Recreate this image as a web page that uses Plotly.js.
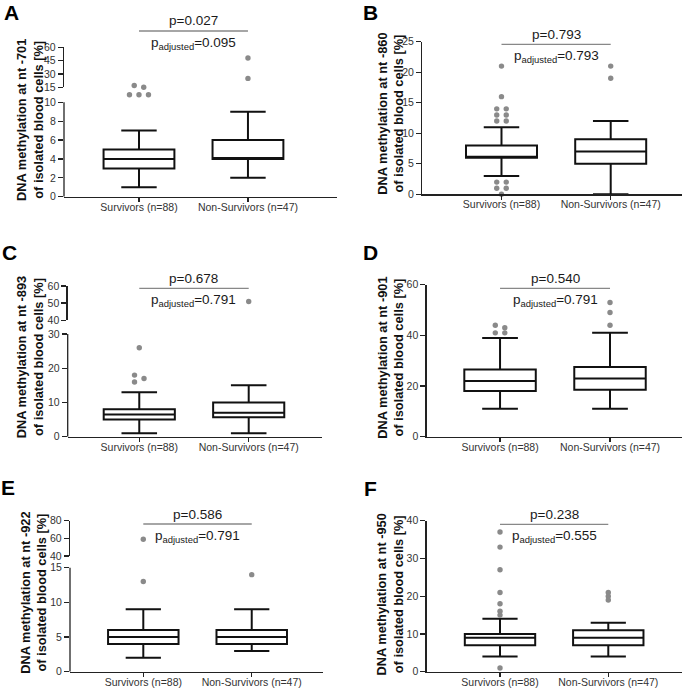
<!DOCTYPE html>
<html><head><meta charset="utf-8">
<script src="https://cdn.plot.ly/plotly-3.0.1.min.js"></script>
<style>html,body{margin:0;padding:0;background:#fff}#chart{width:685px;height:689px}</style>
</head><body><div id="chart"></div>
<script>
// ---------------- data ----------------
const categories = ['Survivors (n=88)', 'Non-Survivors (n=47)'];
const panelLetters = ['A', 'B', 'C', 'D', 'E', 'F'];
const sites = ['-701', '-860', '-893', '-901', '-922', '-950'];
const pValues = ['0.027', '0.793', '0.678', '0.540', '0.586', '0.238'];
const pAdjusted = ['0.095', '0.793', '0.791', '0.791', '0.791', '0.555'];

const survLow  = [1, 3, 1, 11, 2, 4];
const survQ1   = [3, 6, 5, 18, 4, 7];
const survMed  = [4, 6, 6.5, 22, 5, 9];
const survQ3   = [5, 8, 8, 26.5, 6, 10];
const survHigh = [7, 11, 13, 39, 9, 14];

const nonLow  = [2, 0, 1, 11, 3, 4];
const nonQ1   = [4, 5, 5.7, 18.5, 4, 7];
const nonMed  = [4, 7, 7, 23, 5, 9];
const nonQ3   = [6, 9, 10, 27.5, 6, 11];
const nonHigh = [9, 12, 15, 41, 9, 13];

const survOutliers = [
  [10.8, 10.8, 10.8, 15, 17],
  [0, 1, 1, 2, 2, 12, 12, 13, 13, 14, 14, 16, 21],
  [16, 17, 18, 26],
  [41, 41, 43, 44],
  [13, 59],
  [1, 15, 16, 18, 21, 27, 33, 37]
];
const nonOutliers = [
  [25, 48],
  [19, 21],
  [51],
  [44, 49, 53],
  [14],
  [19, 20, 21]
];

// ---------------- geometry (pixels) ----------------
const W = 685, H = 689;
const FONT = "Arial, 'Liberation Sans', sans-serif";
const geo = [
  {x0: 64, x1: 337, xr: [-0.688, 1.817],
   seg: [{top: 102.3, bot: 196.7, range: [0, 10], dtick: 2}, {top: 47.3, bot: 87.3, range: [15, 60], dtick: 15}],
   title: [30, 120], letter: [11, 0, 'top'], sigY: 31},
  {x0: 422.3, x1: 681.7, xr: [-0.725, 1.65],
   seg: [{top: 41.7, bot: 194.3, range: [0, 25], dtick: 5}],
   title: [390.8, 114], letter: [370, 0, 'top'], sigY: 44.3},
  {x0: 67.7, x1: 321.7, xr: [-0.654, 1.667],
   seg: [{top: 334, bot: 436.7, range: [0, 30], dtick: 10}, {top: 286, bot: 320.3, range: [40, 60], dtick: 10}],
   title: [29.7, 357.5], letter: [9, 253, 'middle'], sigY: 288.3},
  {x0: 426.7, x1: 681.7, xr: [-0.667, 1.652],
   seg: [{top: 284.7, bot: 436.7, range: [0, 60], dtick: 20}],
   title: [390.3, 357.5], letter: [370, 252.5, 'middle'], sigY: 288.3},
  {x0: 70, x1: 323.3, xr: [-0.676, 1.66],
   seg: [{top: 567.7, bot: 671.7, range: [0, 15], dtick: 5}, {top: 520.7, bot: 556, range: [40, 80], dtick: 20}],
   title: [33.3, 592.5], letter: [8, 487.5, 'middle'], sigY: 524},
  {x0: 426.7, x1: 681.7, xr: [-0.677, 1.678],
   seg: [{top: 520.7, bot: 671.7, range: [0, 40], dtick: 10}],
   title: [390.3, 594.2], letter: [370, 488, 'middle'], sigY: 524.3}
];

const px = x => x / W;
const py = y => 1 - y / H;
const axId = (l, n) => n === 1 ? l : l + n;
const axKey = (l, n) => l + 'axis' + (n === 1 ? '' : n);

function segIndex(g, v) {
  if (g.seg.length > 1 && v >= g.seg[1].range[0]) return 1;
  return 0;
}
function yPx(s, v) {
  return s.bot - (v - s.range[0]) / (s.range[1] - s.range[0]) * (s.bot - s.top);
}
// simple Prism-like dodge of overlapping outlier markers
function dodge(vals, g, center, pxPerX) {
  const items = vals.map(v => { const si = segIndex(g, v); return {v, si, p: yPx(g.seg[si], v)}; });
  const sorted = items.slice().sort((a, b) => b.v - a.v);
  const rows = [];
  sorted.forEach(o => {
    const last = rows[rows.length - 1];
    if (last && last[0].v === o.v) last.push(o); else rows.push([o]);
  });
  const clusters = [];
  rows.forEach(r => {
    const lc = clusters[clusters.length - 1];
    if (lc && Math.abs(lc[lc.length - 1][0].p - r[0].p) < 3.6) lc.push(r); else clusters.push([r]);
  });
  const step = 9.5;
  clusters.forEach(c => {
    c.forEach((r, j) => {
      const base = c.length > 1 ? (j % 2 === 0 ? -1 : 1) * step / 2 : 0;
      r.forEach((o, i) => {
        const offPx = r.length > 1 ? (i - (r.length - 1) / 2) * step : base;
        o.x = center + offPx / pxPerX;
      });
    });
  });
  return sorted;
}

const AX_COLOR = '#222';
const axisLine = {
  showline: true, linecolor: AX_COLOR, linewidth: 1.3, ticks: 'outside', tickwidth: 1.3,
  tickcolor: AX_COLOR, showgrid: false, zeroline: false, fixedrange: true,
  tickfont: {family: FONT, size: 10.5, color: '#333'}
};

const traces = [];
const layout = {
  width: W, height: H, margin: {l: 0, r: 0, t: 0, b: 0},
  paper_bgcolor: '#fff', plot_bgcolor: 'rgba(0,0,0,0)', showlegend: false,
  annotations: [], shapes: []
};

let yCount = 0;
geo.forEach((g, i) => {
  const xn = i + 1;
  const xid = axId('x', xn);
  const yIds = [];
  const broken = g.seg.length > 1;
  g.seg.forEach((s, k) => {
    yCount += 1;
    const yid = axId('y', yCount);
    yIds.push(yid);
    const ax = Object.assign({}, axisLine, {anchor: xid, ticklen: 5});
    if (broken && k === 0) {
      // lower segment of a broken axis: let the plotting area reach up to the break
      // so outliers just above the top tick stay visible; the axis line stops at the top tick
      const up = g.seg[1];
      const perUnit = (s.bot - s.top) / (s.range[1] - s.range[0]);
      const extTop = s.range[1] + (s.top - up.bot) / perUnit;
      const tv = [];
      for (let t = s.range[0]; t <= s.range[1] + 1e-9; t += s.dtick) tv.push(t);
      Object.assign(ax, {domain: [py(s.bot), py(up.bot)], range: [s.range[0], extTop],
        tickvals: tv, showline: false});
      layout.shapes.push({type: 'line', xref: xid + ' domain', yref: yid, x0: 0, x1: 0,
        y0: s.range[0], y1: s.range[1], line: {color: AX_COLOR, width: 1.3}, layer: 'above'});
    } else {
      Object.assign(ax, {domain: [py(s.bot), py(s.top)], range: s.range, dtick: s.dtick, tick0: 0});
    }
    layout[axKey('y', yCount)] = ax;
  });
  layout[axKey('x', xn)] = Object.assign({}, axisLine, {
    domain: [px(g.x0), px(g.x1)], range: g.xr, anchor: yIds[0],
    tickvals: categories.map((c, j) => j), ticktext: categories, ticklen: 4,
    ticklabelstandoff: -4
  });

  // boxes
  traces.push({
    type: 'box', xaxis: xid, yaxis: yIds[0],
    x: categories.map((c, j) => j),
    lowerfence: [survLow[i], nonLow[i]],
    q1: [survQ1[i], nonQ1[i]],
    median: [survMed[i], nonMed[i]],
    q3: [survQ3[i], nonQ3[i]],
    upperfence: [survHigh[i], nonHigh[i]],
    boxpoints: false, width: 0.65, whiskerwidth: 0.5,
    fillcolor: '#fff', line: {color: '#111', width: 2}, hoverinfo: 'skip'
  });

  // outliers
  const pxPerX = (g.x1 - g.x0) / (g.xr[1] - g.xr[0]);
  const pts = [];
  [survOutliers[i], nonOutliers[i]].forEach((vals, j) => {
    dodge(vals, g, j, pxPerX).forEach(o => pts.push(o));
  });
  g.seg.forEach((s, k) => {
    const sub = pts.filter(o => o.si === k);
    if (!sub.length) return;
    traces.push({
      type: 'scatter', mode: 'markers', xaxis: xid, yaxis: yIds[k],
      x: sub.map(o => o.x), y: sub.map(o => o.v), cliponaxis: false,
      marker: {size: 5.4, color: '#8a8a8a'}, hoverinfo: 'skip'
    });
  });

  // significance bar
  layout.shapes.push({
    type: 'line', xref: xid, yref: 'paper', x0: 0, x1: 1,
    y0: py(g.sigY), y1: py(g.sigY), line: {color: '#888', width: 1.3}
  });
  layout.annotations.push({
    xref: xid, yref: 'paper', x: 0.5, y: py(g.sigY - 0.5), xanchor: 'center', yanchor: 'bottom',
    text: 'p=' + pValues[i], showarrow: false, font: {family: FONT, size: 13.5, color: '#1a1a1a'}
  });
  layout.annotations.push({
    xref: xid, yref: 'paper', x: 0.5, y: py(g.sigY + 2), xanchor: 'center', yanchor: 'top',
    text: 'p<sub>adjusted</sub>=' + pAdjusted[i], showarrow: false,
    font: {family: FONT, size: 13.5, color: '#1a1a1a'}
  });

  // y title
  layout.annotations.push({
    xref: 'paper', yref: 'paper', x: px(g.title[0]), y: py(g.title[1]),
    xanchor: 'center', yanchor: 'middle', textangle: -90, showarrow: false,
    text: '<b>DNA methylation at nt ' + sites[i] + '<br>of isolated blood cells [%]</b>',
    font: {family: FONT, size: 12.8, color: '#111'}
  });
  // panel letter
  layout.annotations.push({
    xref: 'paper', yref: 'paper', x: px(g.letter[0]), y: py(g.letter[1]),
    xanchor: 'center', yanchor: g.letter[2], showarrow: false, borderpad: 0,
    text: '<b>' + panelLetters[i] + '</b>', font: {family: FONT, size: 21, color: '#000'}
  });
});

Plotly.newPlot('chart', traces, layout, {staticPlot: true, displayModeBar: false});
</script>
</body></html>
